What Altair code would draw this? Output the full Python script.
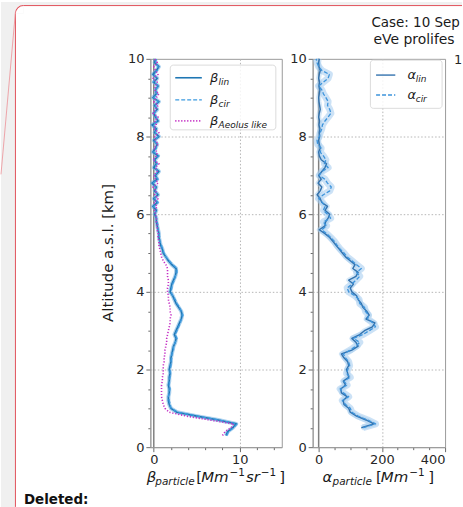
import altair as alt
import pandas as pd

# ---------------- data ----------------
ALT_KM = [0.3, 0.4, 0.5, 0.6, 0.7, 0.8, 0.9, 1.0, 1.1, 1.2, 1.3, 1.4, 1.5, 1.6, 1.7, 1.8, 1.9, 2.0,
          2.1, 2.2, 2.3, 2.4, 2.5, 2.6, 2.7, 2.8, 2.9, 3.0, 3.1, 3.2, 3.3, 3.4, 3.5, 3.6, 3.7, 3.8,
          3.9, 4.0, 4.1, 4.2, 4.3, 4.4, 4.5, 4.6, 4.7, 4.8, 4.9, 5.0, 5.1, 5.2, 5.3, 5.4, 5.5, 5.6,
          5.7, 5.8, 5.9, 6.0, 6.1, 6.2, 6.3, 6.4, 6.5, 6.6, 6.7, 6.8, 6.9, 7.0, 7.1, 7.2, 7.3, 7.4,
          7.5, 7.6, 7.7, 7.8, 7.9, 8.0, 8.1, 8.2, 8.3, 8.4, 8.5, 8.6, 8.7, 8.8, 8.9, 9.0, 9.1, 9.2,
          9.3, 9.4, 9.5, 9.6, 9.7, 9.8, 9.9, 10.0]

BETA_LIN = [8.4, 8.6, 9.2, 9.6, 7.5, 5.0, 2.7, 2.0, 1.8, 1.7, 1.7, 1.8, 1.8, 1.7, 1.8, 1.8, 1.9, 1.8,
            1.9, 2.0, 2.0, 2.1, 2.2, 2.3, 2.5, 2.6, 2.4, 2.6, 2.8, 3.0, 3.2, 3.3, 3.2, 2.9, 2.6, 2.4,
            2.2, 1.9, 2.0, 2.1, 2.3, 2.5, 2.6, 2.6, 2.1, 1.7, 1.4, 1.1, 1.0, 0.8, 0.7, 0.6, 0.6, 0.5,
            0.4, 0.3, 0.3, 0.1,
            0.3, -0.1, 0.4, 0.0, 0.5, 0.1, 0.3, -0.2, 0.4, 0.2, 0.6, 0.0, 0.3, 0.1, 0.5, -0.1,
            0.2, 0.4, 0.0, 0.6, 0.1, 0.3, -0.2, 0.5, 0.2, 0.0, 0.4, 0.1, 0.6, -0.1, 0.3, 0.2,
            0.5, 0.0, 0.4, -0.1, 0.3, 0.6, 0.1, 0.2]
BETA_CIR = [8.5, 8.7, 9.3, 9.7, 7.6, 5.1, 2.8, 2.0, 1.9, 1.8, 1.7, 1.8, 1.9, 1.8, 1.8, 1.9, 1.9, 1.9,
            2.0, 2.0, 2.1, 2.1, 2.3, 2.3, 2.5, 2.7, 2.5, 2.7, 2.9, 3.1, 3.2, 3.4, 3.2, 3.0, 2.7, 2.5,
            2.2, 2.0, 2.1, 2.2, 2.4, 2.5, 2.7, 2.7, 2.2, 1.8, 1.4, 1.2, 1.0, 0.9, 0.7, 0.7, 0.6, 0.5,
            0.5, 0.4, 0.3, 0.2,
            0.2, 0.0, 0.5, 0.1, 0.4, 0.2, 0.2, -0.1, 0.5, 0.1, 0.5, 0.1, 0.4, 0.0, 0.6, 0.0,
            0.3, 0.3, 0.1, 0.5, 0.2, 0.2, -0.1, 0.4, 0.3, 0.1, 0.3, 0.2, 0.5, 0.0, 0.4, 0.1,
            0.6, -0.1, 0.3, 0.0, 0.4, 0.5, 0.2, 0.3]
BETA_AEOLUS = [8.0, 8.3, 9.0, 9.3, 6.5, 3.8, 1.8, 1.3, 1.1, 1.0, 0.9, 0.9, 0.9, 0.9, 1.0, 1.0, 1.1, 1.1,
               1.1, 1.2, 1.2, 1.3, 1.3, 1.4, 1.5, 1.5, 1.6, 1.7, 1.8, 1.9, 1.9, 2.0, 1.9, 1.9, 1.8, 1.7,
               1.7, 1.6, 1.6, 1.7, 1.7, 1.6, 1.6, 1.6, 1.4, 1.1, 0.9, 0.8, 0.7, 0.6, 0.6, 0.5, 0.5, 0.4,
               0.4, 0.3, 0.3, 0.2,
               0.1, 0.4, 0.0, 0.5, 0.1, 0.3, -0.1, 0.5, 0.2, 0.0, 0.4, 0.2, 0.6, -0.1, 0.3, 0.4,
               0.0, 0.5, 0.2, 0.1, 0.6, 0.0, 0.3, 0.1, 0.5, -0.1, 0.2, 0.5, 0.0, 0.3, 0.6, 0.1,
               0.2, 0.4, -0.1, 0.5, 0.2, 0.0, 0.4, 0.1]

ALPHA_ALT = ALT_KM[2:]
ALPHA_LIN = [135, 175, 150, 120, 100, 95,
             80, 78, 90, 72, 70, 85, 78, 95, 92, 88,
             95, 92, 80, 72, 105, 125, 118, 105, 130, 145,
             170, 178, 150, 160, 152, 140, 135, 125, 120, 105,
             100, 110, 95, 118, 125, 108, 115, 100, 85, 75,
             65, 55, 45, 35, 20, 2, 20, 22, 30, 35,
             20, 28, 10, 5, -5, 5, 10, -2, 8, 0,
             10, 20, 25, 8, 2, 0, 5, 2, 0, 3,
             2, 4, 1, 3, 0, 2, 5, 3, 1, 0,
             2, 4, 1, 3, 0, 2, 5, 1, 0, 2]
ALPHA_CIR = [140, 180, 155, 125, 105, 100,
             85, 75, 95, 78, 68, 90, 80, 100, 88, 92,
             98, 95, 85, 78, 100, 118, 130, 110, 140, 160,
             180, 172, 155, 158, 148, 145, 130, 128, 115, 95,
             90, 105, 118, 130, 120, 135, 120, 105, 90, 80,
             68, 58, 50, 38, 25, 10, 25, 15, 38, 28,
             15, 20, 12, 0, 15, 35, 40, 28, 20, 2,
             10, 30, 18, 23, 15, 5, 8, -3, -5, 2,
             5, 10, 12, 20, 30, 39, 35, 28, 30, 23,
             15, 10, 0, 15, 30, 34, 10, 0, -5, -8]

Y_TICKS = [0, 0.5, 1, 1.5, 2, 2.5, 3, 3.5, 4, 4.5, 5, 5.5, 6, 6.5, 7, 7.5, 8, 8.5, 9, 9.5, 10]
X1_TICKS = [0, 2, 4, 6, 8, 10, 12, 14]
X2_TICKS = [0, 50, 100, 150, 200, 250, 300, 350, 400]

assert len(BETA_LIN) == len(BETA_CIR) == len(BETA_AEOLUS) == len(ALT_KM)
assert len(ALPHA_LIN) == len(ALPHA_CIR) == len(ALPHA_ALT)

# ---------------- styling ----------------
FONT = "DejaVu Sans"
INK = "#1a1a1a"
RED = "#e0505a"
PAGE = "#f0f0f0"
C_BLIN = "#1f77b4"
C_BCIR = "#3d9be0"
C_AEO = "#c42fc4"
C_ALIN = "#3272ae"
C_ACIR = "#3d94dc"
C_BAND = "#a3cbee"

P1 = (150, 57)   # canvas origin of panel 1 plot area
P2 = (313, 57)   # canvas origin of panel 2 plot area

one = pd.DataFrame({"k": [0]})


def T(s, x, y, size, style="normal", weight="normal", color=INK, align="left",
      angle=0, baseline="alphabetic", limit=None):
    kw = dict(text=s, font=FONT, fontSize=size, fontStyle=style, fontWeight=weight,
              color=color, align=align, baseline=baseline)
    if angle:
        kw["angle"] = angle
    if limit:
        kw["limit"] = limit
        kw["ellipsis"] = ""
    return alt.Chart(one).mark_text(**kw).encode(x=alt.value(x), y=alt.value(y))


def R(x, x2, y, y2, **kw):
    return alt.Chart(one).mark_rect(**kw).encode(
        x=alt.value(x), x2=alt.value(x2), y=alt.value(y), y2=alt.value(y2))


def L(x, x2, y, y2, **kw):
    return alt.Chart(one).mark_rule(**kw).encode(
        x=alt.value(x), x2=alt.value(x2), y=alt.value(y), y2=alt.value(y2))


def cond(test, a, b):
    return {"condition": {"test": test, "value": a}, "value": b}


Y = alt.Y("alt:Q", scale=alt.Scale(domain=[0, 10], nice=False, zero=False),
          axis=alt.Axis(values=Y_TICKS,
                        labelExpr="datum.value % 2 === 0 ? '' + datum.value : ''",
                        tickSize=cond("datum.value % 2 === 0", 4.5, 2.5),
                        grid=True,
                        gridOpacity=cond("datum.value > 0 && datum.value < 10 && datum.value % 2 === 0", 1, 0),
                        title=None))

X1 = alt.X("value:Q", scale=alt.Scale(domain=[-0.4, 14.9], nice=False, zero=False),
           axis=alt.Axis(values=X1_TICKS,
                         labelExpr="datum.value % 10 === 0 ? '' + datum.value : ''",
                         tickSize=cond("datum.value % 10 === 0", 4.5, 2.5),
                         grid=True,
                         gridOpacity=cond("datum.value === 10", 1, 0),
                         title=None))

X2 = alt.X("value:Q", scale=alt.Scale(domain=[-19, 400], nice=False, zero=False),
           axis=alt.Axis(values=X2_TICKS,
                         labelExpr="datum.value % 200 === 0 ? '' + datum.value : ''",
                         tickSize=cond("datum.value % 200 === 0", 4.5, 2.5),
                         grid=True,
                         gridOpacity=cond("datum.value === 200", 1, 0),
                         title=None))


def prof(alts, vals, xenc, color, width, dash=None, opacity=1.0):
    df = pd.DataFrame({"alt": alts, "value": vals})
    kw = dict(color=color, strokeWidth=width, opacity=opacity, strokeJoin="round")
    if dash:
        kw["strokeDash"] = dash
    return alt.Chart(df).mark_line(**kw).encode(x=xenc, y=Y, order=alt.Order("alt:Q"))


def c1(x, y):
    return x - P1[0], y - P1[1]


def c2(x, y):
    return x - P2[0], y - P2[1]


# ---------------- panel 1 : backscatter ----------------
dx1, dy1 = -P1[0], -P1[1]
BASE = 482     # canvas baseline of the x axis titles
deco1 = [
    # page background outside the comment box (anchors canvas to 463x507)
    R(dx1 + 0, dx1 + 14, dy1 + 0, dy1 + 507, fill=PAGE),
    R(dx1 + 14, dx1 + 463, dy1 + 0, dy1 + 3, fill=PAGE),
    R(dx1 + 14, dx1 + 22.5, dy1 + 3, dy1 + 11.5, fill=PAGE),
    alt.Chart(one).mark_arc(theta=4.712389, theta2=6.283185, radius=8.5, radius2=0,
                            fill="white").encode(x=alt.value(dx1 + 22.5), y=alt.value(dy1 + 11.5)),
    alt.Chart(one).mark_arc(theta=4.712389, theta2=6.283185, radius=8.5, radius2=7.5,
                            fill=RED).encode(x=alt.value(dx1 + 22.5), y=alt.value(dy1 + 11.5)),
    L(dx1 + 14.5, dx1 + 14.5, dy1 + 11.5, dy1 + 507, color=RED, strokeWidth=1),
    L(dx1 + 22.5, dx1 + 463, dy1 + 3.5, dy1 + 3.5, color=RED, strokeWidth=1),
    L(dx1 + 14.5, dx1 + 0, dy1 + 10, dy1 + 173, color="#ec9096", strokeWidth=0.8),
    T("Deleted:", dx1 + 23, dy1 + 504, 13.5, weight="bold", color="#111111"),
    # y axis title
    T("Altitude a.s.l. [km]", dx1 + 112, dy1 + 252, 15, angle=270, align="center"),
    # x axis title:  beta_particle [Mm^-1 sr^-1]
    T("β", dx1 + 146.5, dy1 + BASE, 15, style="italic"),
    T("particle", dx1 + 155, dy1 + BASE + 3, 10.5, style="italic"),
    T("[", dx1 + 196, dy1 + BASE, 15),
    T("Mm", dx1 + 201, dy1 + BASE, 15, style="italic"),
    T("−1", dx1 + 229.5, dy1 + BASE - 6, 10.5),
    T("sr", dx1 + 246, dy1 + BASE, 15, style="italic"),
    T("−1", dx1 + 261, dy1 + BASE - 6, 10.5),
    T("]", dx1 + 279.5, dy1 + BASE, 15),
]

zero1 = alt.Chart(pd.DataFrame({"value": [0]})).mark_rule(
    color="#808080", strokeWidth=1.5).encode(x=X1)

lines1 = [
    prof(ALT_KM, BETA_LIN, X1, "#6fb0e3", 4, opacity=0.6),
    prof(ALT_KM, BETA_LIN, X1, C_BLIN, 1.6),
    prof(ALT_KM, BETA_CIR, X1, C_BCIR, 1.3, dash=[4, 2]),
    prof(ALT_KM, BETA_AEOLUS, X1, C_AEO, 1.6, dash=[1.2, 1.8]),
]

lx, ly = c1(170, 63.3)
lx2, ly2 = c1(276, 128.3)
rows1 = [c1(0, 76)[1], c1(0, 98.3)[1], c1(0, 119.3)[1]]
a, _ = c1(175, 0)
b, _ = c1(201.7, 0)
tx, _ = c1(210, 0)
sx, _ = c1(218.5, 0)
legend1 = [
    R(lx, lx2, ly, ly2, fill="white", opacity=0.85, stroke="#d6d6d6", strokeWidth=1, cornerRadius=3),
    L(a, b, rows1[0], rows1[0], color=C_BLIN, strokeWidth=1.6),
    L(a, b, rows1[1], rows1[1], color=C_BCIR, strokeWidth=1.3, strokeDash=[4, 2]),
    L(a, b, rows1[2], rows1[2], color=C_AEO, strokeWidth=1.6, strokeDash=[1.2, 1.8]),
    T("β", tx, rows1[0] + 4.5, 13, style="italic"),
    T("lin", sx, rows1[0] + 7.5, 9, style="italic"),
    T("β", tx, rows1[1] + 4.5, 13, style="italic"),
    T("cir", sx, rows1[1] + 7.5, 9, style="italic"),
    T("β", tx, rows1[2] + 4.5, 13, style="italic"),
    T("Aeolus like", sx, rows1[2] + 7.5, 9, style="italic"),
]

p1 = alt.layer(*deco1, zero1, *lines1, *legend1).properties(width=132, height=390)

# ---------------- panel 2 : extinction ----------------
zero2 = alt.Chart(pd.DataFrame({"value": [0]})).mark_rule(
    color="#808080", strokeWidth=1.5).encode(x=X2)

lines2 = [
    prof(ALPHA_ALT, ALPHA_CIR, X2, C_BAND, 7, opacity=0.55),
    prof(ALPHA_ALT, ALPHA_LIN, X2, C_BAND, 5, opacity=0.45),
    prof(ALPHA_ALT, ALPHA_LIN, X2, C_ALIN, 1.4),
    prof(ALPHA_ALT, ALPHA_CIR, X2, C_ACIR, 1.3, dash=[4, 2]),
]

mx, my = c2(371, 58.3)
mx2, my2 = c2(443, 106.7)
rows2 = [c2(0, 73.3)[1], c2(0, 93.3)[1]]
a2, _ = c2(376.7, 0)
b2, _ = c2(396, 0)
tx2, _ = c2(408.3, 0)
sx2, _ = c2(416.5, 0)
yb = c2(0, BASE)[1]
deco2 = [
    R(mx, mx2, my, my2, fill="white", opacity=0.85, stroke="#d6d6d6", strokeWidth=1, cornerRadius=3),
    L(a2, b2, rows2[0], rows2[0], color=C_ALIN, strokeWidth=1.4),
    L(a2, b2, rows2[1], rows2[1], color=C_ACIR, strokeWidth=1.3, strokeDash=[4, 2]),
    T("α", tx2, rows2[0] + 4, 13, style="italic"),
    T("lin", sx2, rows2[0] + 7, 9, style="italic"),
    T("α", tx2, rows2[1] + 4, 13, style="italic"),
    T("cir", sx2, rows2[1] + 7, 9, style="italic"),
    # x axis title:  alpha_particle [Mm^-1]
    T("α", c2(323, 0)[0], yb, 15, style="italic"),
    T("particle", c2(333, 0)[0], yb + 3, 10.5, style="italic"),
    T("[", c2(376.5, 0)[0], yb, 15),
    T("Mm", c2(381.5, 0)[0], yb, 15, style="italic"),
    T("−1", c2(410, 0)[0], yb - 6, 10.5),
    T("]", c2(429, 0)[0], yb, 15),
    # figure title (cut at the page edge) and neighbour panel label
    T("Case: 10 Sep", c2(372, 0)[0], c2(0, 25.5)[1], 13.5, limit=90),
    T("eVe prolifes", c2(374, 0)[0], c2(0, 42)[1], 14),
    T("1", c2(455, 0)[0], c2(0, 61.7)[1], 13, color="#262626"),
]

p2 = alt.layer(zero2, *lines2, *deco2).properties(width=133, height=390)

chart = (
    alt.hconcat(p1, p2, spacing=31, bounds="flush")
    .properties(padding=0, background="white")
    .configure_view(stroke="#9a9a9a", strokeWidth=1)
    .configure_axis(labelFont=FONT, labelFontSize=13, labelColor="#262626",
                    domainColor="#9a9a9a", domainWidth=1, tickColor="#6a6a6a", tickWidth=1,
                    gridColor="#b5b5b5", gridDash=[1.5, 2], gridWidth=1, labelPadding=2)
)

chart.save("out.html", embed_options={"renderer": "svg", "actions": False})
